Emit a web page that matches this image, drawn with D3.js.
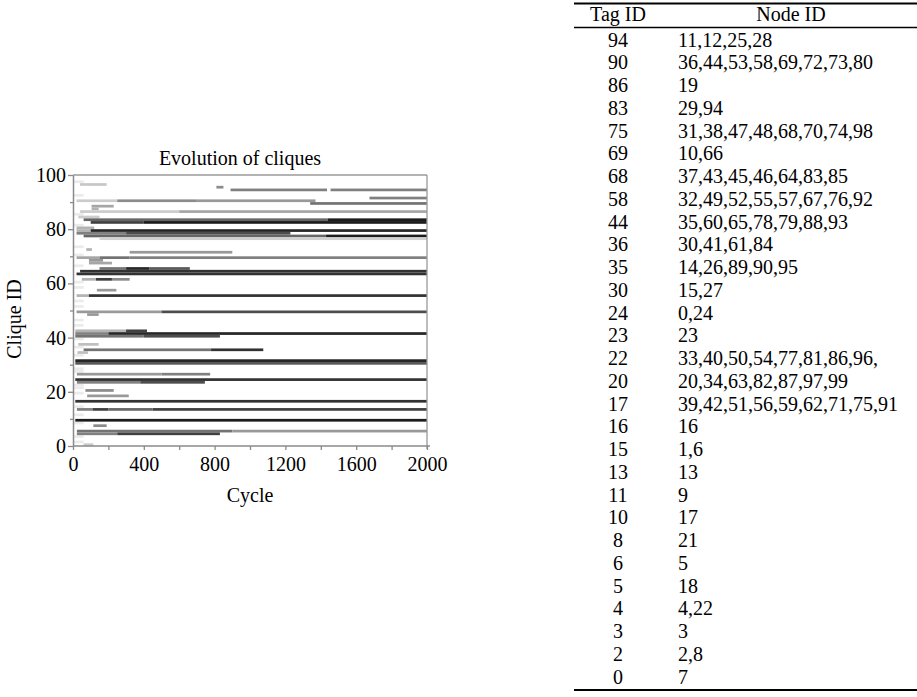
<!DOCTYPE html>
<html>
<head>
<meta charset="utf-8">
<script src="https://cdn.jsdelivr.net/npm/d3@7"></script>
<style>
  html, body { margin: 0; padding: 0; background: #fff; }
  svg { display: block; font-family: "Liberation Serif", "Times New Roman", serif; }
</style>
</head>
<body>
<svg id="fig" width="917" height="697"></svg>
<script>
// Clique bands: [clique id, first cycle, last cycle, darkness 0..1]
const cliqueSegments = [
  [96, 40, 190, 0.22],
  [95, 810, 850, 0.45],
  [94, 890, 1435, 0.5], [94, 1455, 2000, 0.5],
  [91, 1675, 2000, 0.5],
  [90, 20, 250, 0.2], [90, 250, 700, 0.45], [90, 700, 1370, 0.4],
  [89, 1340, 2000, 0.55],
  [88, 105, 230, 0.35],
  [87, 105, 145, 0.3],
  [86, 40, 600, 0.2], [86, 600, 2000, 0.35],
  [84, 30, 150, 0.2],
  [83, 60, 1440, 0.6], [83, 1440, 2000, 0.9],
  [82, 100, 400, 0.75], [82, 400, 2000, 0.9],
  [80, 20, 120, 0.3],
  [79, 20, 100, 0.3], [79, 100, 2000, 0.85],
  [78, 20, 300, 0.5], [78, 300, 1228, 0.7],
  [77, 60, 1430, 0.6], [77, 1430, 2000, 0.9],
  [76, 150, 2000, 0.18],
  [72, 75, 107, 0.3],
  [71, 320, 900, 0.4],
  [69, 20, 150, 0.35], [69, 150, 320, 0.55], [69, 320, 2000, 0.5],
  [68, 90, 170, 0.4],
  [67, 90, 220, 0.35],
  [65, 150, 300, 0.55], [65, 300, 430, 0.85], [65, 430, 660, 0.65],
  [64, 40, 2000, 0.8],
  [63, 20, 2000, 0.8],
  [61, 50, 130, 0.3], [61, 130, 220, 0.75], [61, 220, 320, 0.45],
  [57, 135, 245, 0.4],
  [55, 20, 90, 0.3], [55, 90, 2000, 0.8],
  [49, 20, 500, 0.4], [49, 500, 2000, 0.7],
  [48, 80, 145, 0.4],
  [42, 13, 300, 0.3], [42, 300, 418, 0.75],
  [41, 13, 200, 0.5], [41, 200, 2000, 0.85],
  [40, 13, 400, 0.55], [40, 400, 830, 0.7],
  [37, 30, 145, 0.25],
  [35, 60, 780, 0.55], [35, 780, 1075, 0.8],
  [34, 25, 85, 0.25],
  [31, 13, 2000, 0.85],
  [30, 13, 2000, 0.65],
  [26, 22, 500, 0.4], [26, 500, 775, 0.5],
  [24, 13, 2000, 0.8],
  [23, 22, 380, 0.5], [23, 380, 745, 0.7],
  [20, 70, 230, 0.45],
  [18, 80, 315, 0.4],
  [16, 13, 2000, 0.8],
  [13, 22, 110, 0.5], [13, 110, 200, 0.75], [13, 200, 450, 0.6], [13, 450, 2000, 0.75],
  [9, 13, 2000, 0.9],
  [7, 115, 190, 0.45],
  [5, 22, 900, 0.55], [5, 900, 2000, 0.4],
  [4, 22, 250, 0.5], [4, 250, 830, 0.75],
  [0, 60, 115, 0.2]
];

// Short-lived singleton cliques at the start of the run
const seedIds = [1, 3, 8, 11, 14, 19, 21, 22, 27, 28, 33, 36, 39, 44, 46, 51, 53, 58, 60, 66, 70, 73, 81, 85, 92, 97];
const seedEnd = 60;
const seedShade = 0.08;

const xTicks = d3.range(0, 2001, 200);
const xLabels = [0, 400, 800, 1200, 1600, 2000];
const yTicks = d3.range(0, 101, 10);
const yLabels = [0, 20, 40, 60, 80, 100];

const tagIds = [94, 90, 86, 83, 75, 69, 68, 58, 44, 36, 35, 30, 24, 23, 22, 20, 17, 16, 15, 13, 11, 10, 8, 6, 5, 4, 3, 2, 0];
const nodeIds = [
  "11,12,25,28", "36,44,53,58,69,72,73,80", "19", "29,94", "31,38,47,48,68,70,74,98",
  "10,66", "37,43,45,46,64,83,85", "32,49,52,55,57,67,76,92", "35,60,65,78,79,88,93",
  "30,41,61,84", "14,26,89,90,95", "15,27", "0,24", "23", "33,40,50,54,77,81,86,96,",
  "20,34,63,82,87,97,99", "39,42,51,56,59,62,71,75,91", "16", "1,6", "13", "9", "17",
  "21", "5", "18", "4,22", "3", "2,8", "7"
];

const svg = d3.select("#fig");

// ---- Evolution plot ----
const plot = { left: 73, right: 427, top: 175, bottom: 446 };
const x = d3.scaleLinear().domain([0, 2000]).range([plot.left, plot.right]);
const y = d3.scaleLinear().domain([0, 100]).range([plot.bottom, plot.top]);
const shade = d3.scaleLinear().domain([0, 1]).range(["#ffffff", "#000000"]);

const defs = svg.append("defs");
defs.append("filter").attr("id", "soft")
  .attr("x", "-5%").attr("y", "-20%").attr("width", "110%").attr("height", "140%")
  .append("feGaussianBlur").attr("stdDeviation", 0.6);

const bands = svg.append("g").attr("filter", "url(#soft)");

bands.selectAll("rect.seed")
  .data(seedIds)
  .join("rect")
  .attr("class", "seed")
  .attr("x", x(0))
  .attr("width", x(seedEnd) - x(0))
  .attr("y", d => y(d + 1))
  .attr("height", d => y(d) - y(d + 1))
  .attr("fill", shade(seedShade));

bands.selectAll("rect.clique")
  .data(cliqueSegments)
  .join("rect")
  .attr("class", "clique")
  .attr("x", d => x(d[1]))
  .attr("width", d => x(d[2]) - x(d[1]))
  .attr("y", d => y(d[0] + 1))
  .attr("height", d => y(d[0]) - y(d[0] + 1))
  .attr("fill", d => shade(d[3]));

const axisColor = "#8a8a8a";

// frame: top and right edges
svg.append("line")
  .attr("x1", x(0)).attr("x2", x(2000))
  .attr("y1", y(100)).attr("y2", y(100))
  .attr("stroke", "#9a9a9a").attr("stroke-width", 1.3);
svg.append("line")
  .attr("x1", x(2000)).attr("x2", x(2000))
  .attr("y1", y(100)).attr("y2", y(0) + 3)
  .attr("stroke", "#9a9a9a").attr("stroke-width", 1.3);

const yAxis = svg.append("g")
  .attr("transform", `translate(${plot.left},0)`)
  .call(d3.axisLeft(y).tickValues(yTicks).tickSize(5).tickSizeOuter(0).tickPadding(2)
    .tickFormat(d => yLabels.includes(d) ? d : ""));
yAxis.selectAll(".tick line")
  .attr("x2", d => yLabels.includes(d) ? -5 : -3);

const xAxis = svg.append("g")
  .attr("transform", `translate(0,${plot.bottom})`)
  .call(d3.axisBottom(x).tickValues(xTicks).tickSize(4).tickSizeOuter(0).tickPadding(7)
    .tickFormat(d => xLabels.includes(d) ? d : ""));

[yAxis, xAxis].forEach(g => {
  g.select(".domain").attr("stroke", axisColor).attr("stroke-width", 1.5);
  g.selectAll(".tick line").attr("stroke", axisColor).attr("stroke-width", 1.3);
  g.selectAll(".tick text")
    .attr("fill", "#000")
    .style("font-family", "'Liberation Serif', 'Times New Roman', serif")
    .style("font-size", "20px");
});
xAxis.select(".domain").attr("d", `M${x(0)},0H${x(2000) + 3}`);

svg.append("text")
  .attr("x", 240).attr("y", 165)
  .attr("text-anchor", "middle")
  .style("font-size", "20px")
  .text("Evolution of cliques");

svg.append("text")
  .attr("x", 250).attr("y", 502)
  .attr("text-anchor", "middle")
  .style("font-size", "20px")
  .text("Cycle");

svg.append("text")
  .attr("transform", "translate(21,319) rotate(-90)")
  .attr("text-anchor", "middle")
  .style("font-size", "20px")
  .text("Clique ID");

// ---- Tag table ----
const table = { left: 574, right: 917, tagX: 618, nodeX: 678, headY: 21, firstY: 46.5, rowH: 22.75 };
const tg = svg.append("g").style("font-size", "20px");

tg.append("line")
  .attr("x1", table.left).attr("x2", table.right)
  .attr("y1", 3.5).attr("y2", 3.5)
  .attr("stroke", "#000").attr("stroke-width", 2.2);
tg.append("line")
  .attr("x1", table.left).attr("x2", table.right)
  .attr("y1", 27.5).attr("y2", 27.5)
  .attr("stroke", "#000").attr("stroke-width", 1.4);

tg.append("text").attr("x", table.tagX).attr("y", table.headY)
  .attr("text-anchor", "middle").text("Tag ID");
tg.append("text").attr("x", 791).attr("y", table.headY)
  .attr("text-anchor", "middle").text("Node ID");

const rowY = i => table.firstY + i * table.rowH;

tg.selectAll("text.tag")
  .data(tagIds)
  .join("text")
  .attr("class", "tag")
  .attr("x", table.tagX)
  .attr("y", (d, i) => rowY(i))
  .attr("text-anchor", "middle")
  .text(d => d);

tg.selectAll("text.node")
  .data(nodeIds)
  .join("text")
  .attr("class", "node")
  .attr("x", table.nodeX)
  .attr("y", (d, i) => rowY(i))
  .text(d => d);

tg.append("line")
  .attr("x1", table.left).attr("x2", table.right)
  .attr("y1", rowY(tagIds.length - 1) + 6.5).attr("y2", rowY(tagIds.length - 1) + 6.5)
  .attr("stroke", "#000").attr("stroke-width", 2.2);
</script>
</body>
</html>
